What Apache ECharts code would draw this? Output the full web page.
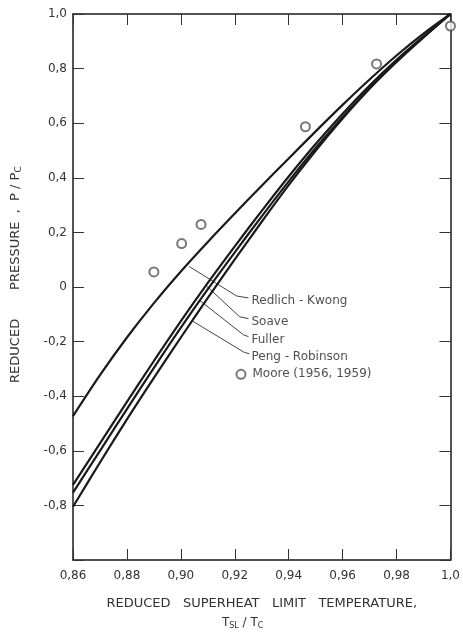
<!DOCTYPE html>
<html>
  <head>
    <meta charset="UTF-8" />
    <title>Superheat limit pressure</title>
    <script src="https://cdn.jsdelivr.net/npm/echarts@6/dist/echarts.min.js"></script>
    <style>
      html, body { margin: 0; padding: 0; background: #fff; }
      #main { width: 463px; height: 635px; }
    </style>
  </head>
  <body>
    <div id="main"></div>
    <script>
      // reduced temperature T_SL / T_c
      const temps = [0.86, 0.87, 0.88, 0.89, 0.90, 0.91, 0.92, 0.93, 0.94, 0.95, 0.96, 0.97, 0.98, 0.99, 1.0]

      const redlichKwong = [-0.473, -0.323, -0.185, -0.059, 0.057, 0.165, 0.269, 0.371, 0.471, 0.57, 0.667, 0.76, 0.848, 0.928, 1.0]
      const soave = [-0.725, -0.573, -0.421, -0.271, -0.125, 0.015, 0.149, 0.279, 0.405, 0.524, 0.635, 0.738, 0.832, 0.918, 1.0]
      const fuller = [-0.753, -0.6, -0.447, -0.296, -0.149, -0.008, 0.127, 0.259, 0.387, 0.509, 0.623, 0.729, 0.826, 0.915, 1.0]
      const pengRobinson = [-0.805, -0.643, -0.485, -0.333, -0.185, -0.04, 0.101, 0.239, 0.373, 0.499, 0.617, 0.726, 0.824, 0.914, 1.0]

      // Moore (1956, 1959) measurements
      const mooreT = [0.89, 0.9003, 0.9075, 0.9462, 0.9726, 1.0]
      const mooreP = [0.055, 0.159, 0.229, 0.587, 0.817, 0.956]

      const xTicks = { min: 0.86, max: 1.0, step: 0.02 }
      const yTicks = { min: -1.0, max: 1.0, step: 0.2 }

      // annotation leaders (data coords) and label anchors
      const notes = [
        { name: 'Redlich - Kwong', path: [[0.9031, 0.075], [0.9207, -0.033], [0.9251, -0.04]], at: [0.9262, -0.051] },
        { name: 'Soave', path: [[0.9097, 0.002], [0.9218, -0.109], [0.9251, -0.116]], at: [0.9262, -0.127] },
        { name: 'Fuller', path: [[0.9071, -0.05], [0.9232, -0.175], [0.9251, -0.182]], at: [0.9262, -0.193] },
        { name: 'Peng - Robinson', path: [[0.9042, -0.124], [0.9236, -0.24], [0.9254, -0.244]], at: [0.9262, -0.255] },
      ]
      const mooreKey = [0.9223, -0.32]

      const font = 'DejaVu Sans'
      const ink = '#1a1a1a'
      const circleStyle = { color: '#555', borderColor: '#555', borderWidth: 1.2 }

      let zip = function (xs, ys) {
        return xs.map((x, i) => [x, ys[i]])
      }

      let curve = function (name, ys) {
        return {
          name: name,
          type: 'line',
          data: zip(temps, ys),
          smooth: 0.3,
          showSymbol: false,
          lineStyle: { color: ink, width: 2.2 },
          z: 3,
        }
      }

      let xFmt = function (v) {
        let r = Math.round(v * 100) / 100
        if (r === 1) return '1,0'
        return r.toFixed(2).replace('.', ',')
      }
      let yFmt = function (v) {
        let r = Math.round(v * 10) / 10
        if (r === -1) return ''
        if (r === 0) return '0'
        return r.toFixed(1).replace('.', ',')
      }

      const series = [
        curve('Redlich-Kwong', redlichKwong),
        curve('Soave', soave),
        curve('Fuller', fuller),
        curve('Peng-Robinson', pengRobinson),
        {
          name: 'Moore',
          type: 'scatter',
          data: zip(mooreT, mooreP),
          symbol: 'emptyCircle',
          symbolSize: 9,
          itemStyle: circleStyle,
          z: 4,
        },
      ]

      notes.forEach((n) => {
        series.push({
          type: 'line',
          data: n.path,
          showSymbol: false,
          lineStyle: { color: '#444', width: 1 },
          silent: true,
          z: 2,
        })
        series.push({
          type: 'scatter',
          data: [n.at],
          symbolSize: 0,
          silent: true,
          label: {
            show: true,
            position: 'right',
            distance: 0,
            formatter: n.name,
            color: '#222',
            fontFamily: font,
            fontSize: 12,
          },
        })
      })
      series.push({
        type: 'scatter',
        data: [mooreKey],
        symbol: 'emptyCircle',
        symbolSize: 9,
        itemStyle: circleStyle,
        silent: true,
        label: {
          show: true,
          position: 'right',
          distance: 6,
          formatter: 'Moore (1956, 1959)',
          color: '#222',
          fontFamily: font,
          fontSize: 12,
        },
      })

      const axisLine = { show: true, onZero: false, lineStyle: { color: ink, width: 1.5 } }
      const tick = { show: true, inside: true, length: 11, lineStyle: { color: '#333', width: 1 } }

      const myChart = echarts.init(document.getElementById('main'))
      myChart.setOption({
        animation: false,
        backgroundColor: '#fff',
        grid: { left: 73, right: 8, top: 14, bottom: 72 },
        xAxis: [
          {
            type: 'value',
            min: xTicks.min,
            max: xTicks.max,
            interval: xTicks.step,
            axisLine: axisLine,
            axisTick: tick,
            splitLine: { show: false },
            axisLabel: { formatter: xFmt, color: '#333', fontFamily: font, fontSize: 12, margin: 10 },
            name: '{t|REDUCED   SUPERHEAT   LIMIT   TEMPERATURE,}\n{b|T}{s|SL}{b| / T}{s|C}          ',
            nameLocation: 'middle',
            nameGap: 32,
            nameTextStyle: {
              color: '#333',
              fontFamily: font,
              rich: {
                t: { fontSize: 13, lineHeight: 24, fontFamily: font, color: '#333' },
                b: { fontSize: 12, fontFamily: font, color: '#333' },
                s: { fontSize: 8, fontFamily: font, color: '#333', padding: [6, 0, 0, 0] },
              },
            },
          },
          {
            type: 'value',
            position: 'top',
            min: xTicks.min,
            max: xTicks.max,
            interval: xTicks.step,
            axisLine: axisLine,
            axisTick: tick,
            axisLabel: { show: false },
            splitLine: { show: false },
          },
        ],
        yAxis: [
          {
            type: 'value',
            min: yTicks.min,
            max: yTicks.max,
            interval: yTicks.step,
            axisLine: axisLine,
            axisTick: tick,
            splitLine: { show: false },
            axisLabel: { formatter: yFmt, color: '#333', fontFamily: font, fontSize: 12, margin: 6 },
            name: '{b|      REDUCED       PRESSURE  ,  P / P}{s|C}',
            nameLocation: 'middle',
            nameGap: 50,
            nameTextStyle: {
              color: '#333',
              fontFamily: font,
              rich: {
                b: { fontSize: 13, fontFamily: font, color: '#333' },
                s: { fontSize: 9, fontFamily: font, color: '#333', padding: [6, 0, 0, 0] },
              },
            },
          },
          {
            type: 'value',
            position: 'right',
            min: yTicks.min,
            max: yTicks.max,
            interval: yTicks.step,
            axisLine: axisLine,
            axisTick: tick,
            axisLabel: { show: false },
            splitLine: { show: false },
          },
        ],
        series: series,
      })
    </script>
  </body>
</html>
